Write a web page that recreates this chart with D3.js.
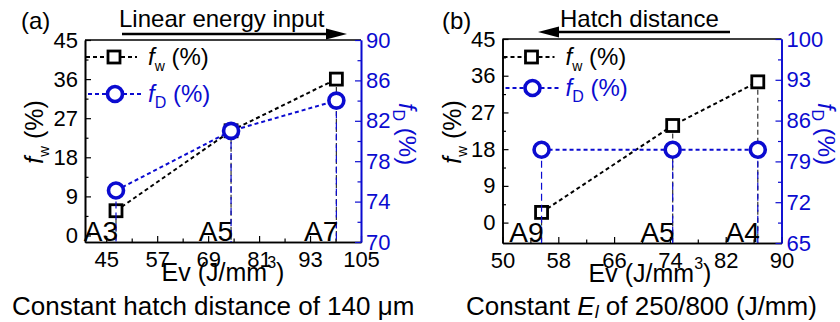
<!DOCTYPE html>
<html>
<head>
<meta charset="utf-8">
<script src="https://cdn.jsdelivr.net/npm/d3@7"></script>
<style>
  body { margin: 0; background: #fff; }
  text { font-family: "Liberation Sans", Arial, sans-serif; }
</style>
</head>
<body>
<div id="chart"></div>
<script>
// Data
const sample_a = ["A3", "A5", "A7"];
const ev_a = [47.3, 74.4, 99.2];
const fw_a = [5.7, 24.1, 36.0];
const fd_a = [75.1, 81.0, 84.0];

const sample_b = ["A9", "A5", "A4"];
const ev_b = [55.6, 74.4, 86.6];
const fw_b = [2.5, 23.8, 34.5];
const fd_b = [81.0, 81.0, 81.0];

// Tick labels
const x_ticks_a = [45, 57, 69, 81, 93, 105];
const x_minor_a = [51, 63, 75, 87, 99];
const fd_ticks_a = [70, 74, 78, 82, 86, 90];
const fd_minor_a = [72, 76, 80, 84, 88];

const x_ticks_b = [50, 58, 66, 74, 82, 90];
const x_minor_b = [54, 62, 70, 78, 86];
const fd_ticks_b = [65, 72, 79, 86, 93, 100];
const fd_minor_b = [68.5, 75.5, 82.5, 89.5, 96.5];

const fw_ticks = [0, 9, 18, 27, 36, 45];
const fw_minor = [4.5, 13.5, 22.5, 31.5, 40.5];

const blue = "#0b0bd0";

const svg = d3.select("#chart").append("svg")
    .attr("width", 840)
    .attr("height", 322);

// style an axis group
function style_axis(g, color) {
    g.select(".domain").attr("stroke", color).attr("stroke-width", 1.6);
    g.selectAll(".tick line").attr("stroke", color).attr("stroke-width", 1.2);
    g.selectAll(".tick text")
        .attr("fill", color)
        .style("font-size", "22px")
        .style("font-family", "'Liberation Sans', Arial, sans-serif");
}

// rich text helper: parts = [[text, {italic, size, dy}]]
function rich(sel, parts) {
    parts.forEach(p => {
        const t = sel.append("tspan").text(p[0]);
        const o = p[1] || {};
        if (o.italic) t.style("font-style", "italic");
        if (o.size) t.style("font-size", o.size + "px");
        if (o.dy) t.attr("dy", o.dy);
    });
    return sel;
}

function draw_panel(p) {
    const g = svg.append("g");
    const x = d3.scaleLinear().domain(p.x_domain).range([p.left, p.right]);
    const y_w = d3.scaleLinear().domain(p.fw_domain).range([p.bottom, p.top]);
    const y_d = d3.scaleLinear().domain(p.fd_domain).range([p.bottom, p.top]);

    // top frame
    g.append("line")
        .attr("x1", p.left).attr("x2", p.right)
        .attr("y1", p.top).attr("y2", p.top)
        .attr("stroke", "#000").attr("stroke-width", 1.6);

    // minor ticks
    g.append("g").attr("transform", "translate(0," + p.bottom + ")")
        .call(d3.axisBottom(x).tickValues(p.x_minor).tickSize(-3.5).tickSizeOuter(0).tickFormat(""))
        .call(a => style_axis(a, "#000"));
    g.append("g").attr("transform", "translate(" + p.left + ",0)")
        .call(d3.axisLeft(y_w).tickValues(fw_minor.filter(v => v > p.fw_domain[0])).tickSize(-3.5).tickSizeOuter(0).tickFormat(""))
        .call(a => style_axis(a, "#000"));
    g.append("g").attr("transform", "translate(" + p.right + ",0)")
        .call(d3.axisRight(y_d).tickValues(p.fd_minor).tickSize(-3.5).tickSizeOuter(0).tickFormat(""))
        .call(a => style_axis(a, blue));

    // major axes
    g.append("g").attr("transform", "translate(0," + p.bottom + ")")
        .call(d3.axisBottom(x).tickValues(p.x_ticks).tickSize(-6).tickSizeOuter(0).tickPadding(9))
        .call(a => style_axis(a, "#000"));
    g.append("g").attr("transform", "translate(" + p.left + ",0)")
        .call(d3.axisLeft(y_w).tickValues(fw_ticks).tickSize(-6).tickSizeOuter(0).tickPadding(7))
        .call(a => style_axis(a, "#000"));
    g.append("g").attr("transform", "translate(" + p.right + ",0)")
        .call(d3.axisRight(y_d).tickValues(p.fd_ticks).tickSize(-6).tickSizeOuter(0).tickPadding(5))
        .call(a => style_axis(a, blue));

    const idx = d3.range(p.ev.length);

    // black drop lines
    g.selectAll(".dropw").data(idx).enter().append("line")
        .attr("x1", i => x(p.ev[i])).attr("x2", i => x(p.ev[i]))
        .attr("y1", i => y_w(p.fw[i])).attr("y2", p.bottom)
        .attr("stroke", "#333").attr("stroke-width", 1.2)
        .attr("stroke-dasharray", "5,3");

    // black connecting line
    const line_w = d3.line().x(i => x(p.ev[i])).y(i => y_w(p.fw[i]));
    g.append("path").attr("d", line_w(idx))
        .attr("fill", "none").attr("stroke", "#000")
        .attr("stroke-width", 2).attr("stroke-dasharray", "4,3");

    // squares
    g.selectAll(".sq").data(idx).enter().append("rect")
        .attr("x", i => x(p.ev[i]) - 6).attr("y", i => y_w(p.fw[i]) - 6)
        .attr("width", 12).attr("height", 12)
        .attr("fill", "#fff").attr("stroke", "#000").attr("stroke-width", 2.8);

    // blue drop lines
    g.selectAll(".dropd").data(idx).enter().append("line")
        .attr("x1", i => x(p.ev[i])).attr("x2", i => x(p.ev[i]))
        .attr("y1", i => y_d(p.fd[i])).attr("y2", p.bottom)
        .attr("stroke", blue).attr("stroke-width", 1.2)
        .attr("stroke-dasharray", "7,4");

    // blue connecting line
    const line_d = d3.line().x(i => x(p.ev[i])).y(i => y_d(p.fd[i]));
    g.append("path").attr("d", line_d(idx))
        .attr("fill", "none").attr("stroke", blue)
        .attr("stroke-width", 2).attr("stroke-dasharray", "4,3");

    // circles
    g.selectAll(".ci").data(idx).enter().append("circle")
        .attr("cx", i => x(p.ev[i])).attr("cy", i => y_d(p.fd[i]))
        .attr("r", 7.5)
        .attr("fill", "#fff").attr("stroke", blue).attr("stroke-width", 3.6);

    // sample labels
    g.selectAll(".lab").data(idx).enter().append("text")
        .attr("x", i => x(p.ev[i]) + 2).attr("y", p.bottom - 1)
        .attr("text-anchor", "end")
        .style("font-size", "28px")
        .text(i => p.samples[i]);

    // legend
    const lx = p.left;
    g.append("line").attr("x1", lx + 1).attr("x2", lx + 52)
        .attr("y1", p.leg_y1).attr("y2", p.leg_y1)
        .attr("stroke", "#000").attr("stroke-width", 2).attr("stroke-dasharray", "4,3");
    g.append("rect").attr("x", lx + 23).attr("y", p.leg_y1 - 6)
        .attr("width", 12).attr("height", 12)
        .attr("fill", "#fff").attr("stroke", "#000").attr("stroke-width", 2.8);
    rich(g.append("text").attr("x", lx + 63).attr("y", p.leg_y1 + 8).style("font-size", "24px"),
        [["f", {italic: true}], ["w", {size: 14, dy: 6}], [" (%)", {dy: -6}]]);

    g.append("line").attr("x1", lx + 3).attr("x2", lx + 58)
        .attr("y1", p.leg_y2).attr("y2", p.leg_y2)
        .attr("stroke", blue).attr("stroke-width", 2).attr("stroke-dasharray", "4,3");
    g.append("circle").attr("cx", lx + 30).attr("cy", p.leg_y2).attr("r", 7.5)
        .attr("fill", "#fff").attr("stroke", blue).attr("stroke-width", 3.6);
    rich(g.append("text").attr("x", lx + 63).attr("y", p.leg_y2 + 8).attr("fill", blue).style("font-size", "24px"),
        [["f", {italic: true}], ["D", {size: 16, dy: 6}], [" (%)", {dy: -6}]]);

    // axis titles
    rich(g.append("text").attr("text-anchor", "middle")
            .attr("transform", "translate(" + (p.left - 42) + ",132) rotate(-90)")
            .style("font-size", "25px"),
        [["f", {italic: true}], ["w", {size: 15, dy: 6}], [" (%)", {dy: -6}]]);
    rich(g.append("text").attr("text-anchor", "middle").attr("fill", blue)
            .attr("transform", "translate(" + (p.right + p.title_r_dx) + ",134) rotate(90)")
            .style("font-size", "24px"),
        [["f", {italic: true}], ["D", {size: 16, dy: 6}], [" (%)", {dy: -6}]]);
    rich(g.append("text").attr("text-anchor", "middle")
            .attr("x", (p.left + p.right) / 2 + p.title_x_dx).attr("y", p.bottom + 39)
            .style("font-size", "25px"),
        [["Ev (J/mm", {}], ["3", {size: 16, dy: -13}], [")", {dy: 13}]]);

    // caption
    rich(g.append("text").attr("x", p.cap_x).attr("y", 315).style("font-size", "26px"),
        p.caption);

    // panel tag
    g.append("text").attr("x", p.tag_x).attr("y", 29).style("font-size", "24px").text(p.tag);

    // arrow annotation
    g.append("text").attr("x", p.ann_x).attr("y", 27).style("font-size", "24px").text(p.ann);
    g.append("line").attr("x1", p.arrow[0]).attr("x2", p.arrow[1])
        .attr("y1", p.arrow_y).attr("y2", p.arrow_y)
        .attr("stroke", "#000").attr("stroke-width", 2.5);
    const tip = p.arrow[2], base = p.arrow[1], ay = p.arrow_y;
    g.append("path").attr("d", "M" + tip + "," + ay + "L" + base + "," + (ay - 5.5) + "L" + base + "," + (ay + 5.5) + "Z")
        .attr("fill", "#000");
}

draw_panel({
    left: 85, right: 361, top: 40, bottom: 242,
    x_domain: [40, 105], fw_domain: [-1.5, 45], fd_domain: [70, 90],
    x_ticks: x_ticks_a, x_minor: x_minor_a, fd_ticks: fd_ticks_a, fd_minor: fd_minor_a,
    ev: ev_a, fw: fw_a, fd: fd_a, samples: sample_a,
    leg_y1: 57, leg_y2: 94,
    title_r_dx: 38, title_x_dx: 0,
    caption: [["Constant hatch distance of 140 \u03bcm", {}]], cap_x: 12,
    tag: "(a)", tag_x: 21,
    ann: "Linear energy input", ann_x: 119,
    arrow: [122, 326, 347], arrow_y: 34
});

draw_panel({
    left: 502.5, right: 781.5, top: 39, bottom: 243,
    x_domain: [50, 90], fw_domain: [-5, 45], fd_domain: [65, 100],
    x_ticks: x_ticks_b, x_minor: x_minor_b, fd_ticks: fd_ticks_b, fd_minor: fd_minor_b,
    ev: ev_b, fw: fw_b, fd: fd_b, samples: sample_b,
    leg_y1: 57, leg_y2: 88,
    title_r_dx: 36, title_x_dx: 8,
    caption: [["Constant ", {}], ["E", {italic: true}], ["l", {italic: true, size: 18, dy: 3}], [" of 250/800 (J/mm)", {dy: -3}]],
    cap_x: 466,
    tag: "(b)", tag_x: 442,
    ann: "Hatch distance", ann_x: 560,
    arrow: [730, 559, 538], arrow_y: 32
});
</script>
</body>
</html>
